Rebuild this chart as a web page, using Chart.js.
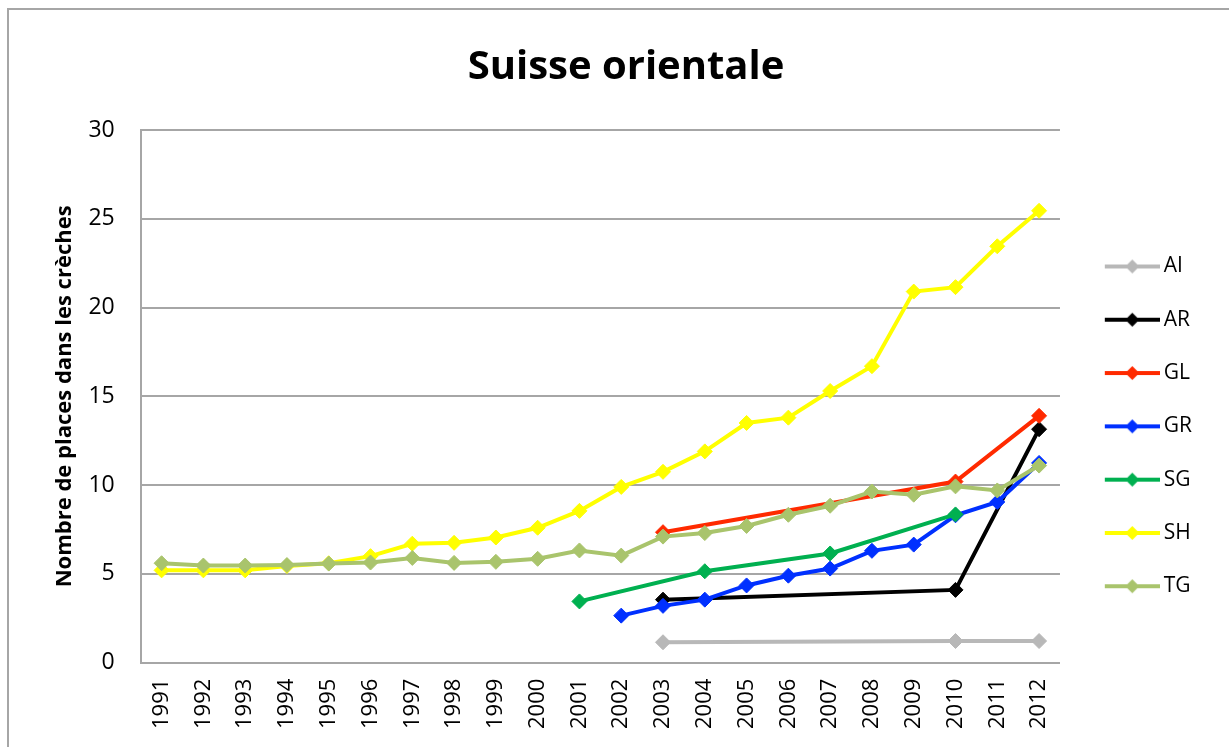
<!DOCTYPE html>
<html>
<head>
<meta charset="utf-8">
<title>Suisse orientale</title>
<script src="https://cdn.jsdelivr.net/npm/chart.js@4"></script>
<style>
  html, body { margin: 0; padding: 0; background: #fff; overflow: hidden; }
  #frame {
    position: absolute; left: 7px; top: 8px;
    width: 1240px; height: 760px;
    border-left: 2px solid #a6a6a6; border-top: 2px solid #a6a6a6;
  }
  #chart { display: block; }
</style>
</head>
<body>
<div id="frame"><canvas id="chart" width="1220" height="737"></canvas></div>
<script>
var years = ["1991","1992","1993","1994","1995","1996","1997","1998","1999","2000","2001",
             "2002","2003","2004","2005","2006","2007","2008","2009","2010","2011","2012"];

var cantons = ["AI", "AR", "GL", "GR", "SG", "SH", "TG"];
var colors = ["#b8b8b8", "#000000", "#ff2a00", "#0030ff", "#00b050", "#ffff00", "#a9c46c"];

// places en crèche (null = pas de donnée)
var AI = [null,null,null,null,null,null,null,null,null,null,null,null,1.15,null,null,null,null,null,null,1.22,null,1.22];
var AR = [null,null,null,null,null,null,null,null,null,null,null,null,3.55,null,null,null,null,null,null,4.1,null,13.15];
var GL = [null,null,null,null,null,null,null,null,null,null,null,null,7.35,null,null,null,null,null,null,10.2,null,13.9];
var GR = [null,null,null,null,null,null,null,null,null,null,null,2.65,3.2,3.55,4.35,4.9,5.3,6.3,6.65,8.3,9.05,11.25];
var SG = [null,null,null,null,null,null,null,null,null,null,3.45,null,null,5.15,null,null,6.15,null,null,8.35,null,null];
var SH = [5.2,5.2,5.2,5.45,5.6,6.0,6.7,6.75,7.05,7.6,8.55,9.9,10.75,11.9,13.5,13.8,15.3,16.7,20.9,21.15,23.45,25.45];
var TG = [5.6,5.47,5.47,5.5,5.58,5.64,5.9,5.62,5.68,5.85,6.32,6.03,7.1,7.3,7.7,8.33,8.84,9.64,9.46,9.93,9.7,11.1];

var series = [AI, AR, GL, GR, SG, SH, TG];

Chart.defaults.font.family = "'Open Sans', sans-serif";
Chart.defaults.color = "#000";

// petite image "trait + losange" pour la légende
function legendMark(color) {
    var c = document.createElement("canvas");
    c.width = 74;
    c.height = 16;
    var g = c.getContext("2d");
    g.strokeStyle = color;
    g.lineWidth = 4;
    g.beginPath();
    g.moveTo(19, 8);
    g.lineTo(74, 8);
    g.stroke();
    g.fillStyle = color;
    g.beginPath();
    g.moveTo(46.5 - 7, 8);
    g.lineTo(46.5, 1);
    g.lineTo(46.5 + 7, 8);
    g.lineTo(46.5, 15);
    g.closePath();
    g.fill();
    return c;
}
var marks = colors.map(legendMark);

var datasets = [];
for (var i = 0; i < cantons.length; i++) {
    datasets.push({
        label: cantons[i],
        data: series[i],
        borderColor: colors[i],
        backgroundColor: colors[i],
        pointBackgroundColor: colors[i],
        pointBorderColor: colors[i],
        borderWidth: 4,
        pointStyle: "rectRot",
        pointRadius: 7.5,
        pointBorderWidth: 1,
        spanGaps: true,
        tension: 0,
        order: cantons.length - 1 - i
    });
}

var chart = new Chart(document.getElementById("chart"), {
    type: "line",
    data: { labels: years, datasets: datasets },
    options: {
        responsive: false,
        animation: false,
        devicePixelRatio: 1,
        layout: { padding: { left: 41, right: 27, top: 0, bottom: 2 } },
        plugins: {
            tooltip: { enabled: false },
            title: {
                display: true,
                text: "Suisse orientale",
                color: "#000",
                font: { size: 40, weight: "bold" },
                padding: { top: 34, bottom: 38 }
            },
            legend: {
                position: "right",
                fullSize: false,
                align: "center",
                title: { display: true, text: "", font: { size: 12, lineHeight: 1 }, padding: { top: 48, bottom: 0 } },
                labels: {
                    usePointStyle: true,
                    pointStyleWidth: 61,
                    padding: 32.3,
                    color: "#000",
                    font: { size: 21 },
                    generateLabels: function (ch) {
                        var items = Chart.defaults.plugins.legend.labels.generateLabels(ch);
                        items.forEach(function (it) { it.pointStyle = marks[it.datasetIndex]; });
                        return items;
                    },
                    sort: function (a, b) { return a.datasetIndex - b.datasetIndex; }
                }
            }
        },
        scales: {
            x: {
                offset: true,
                grid: { display: false, drawTicks: false },
                border: { display: true, color: "#a6a6a6", width: 2 },
                ticks: { autoSkip: false, maxRotation: 90, minRotation: 90, padding: 16, font: { size: 22 }, color: "#000" }
            },
            y: {
                min: 0,
                max: 30,
                ticks: { stepSize: 5, padding: 26, font: { size: 23 }, color: "#000" },
                grid: { color: "#a6a6a6", lineWidth: 2, drawTicks: false },
                border: { display: true, color: "#a6a6a6", width: 2 },
                title: {
                    display: true,
                    text: "Nombre de places dans les crèches",
                    color: "#000",
                    font: { size: 22, weight: "bold" },
                    padding: { top: 2, bottom: -16 }
                }
            }
        }
    }
});
</script>
</body>
</html>
